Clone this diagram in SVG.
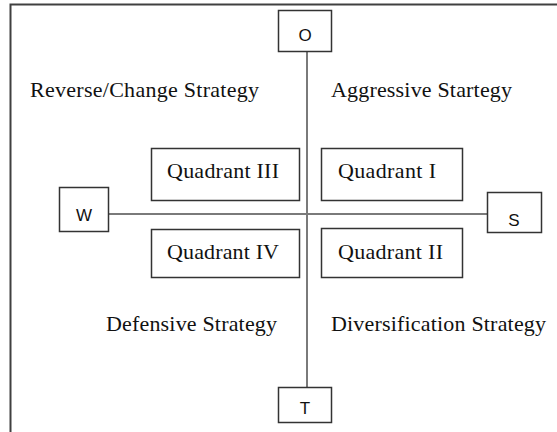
<svg xmlns="http://www.w3.org/2000/svg" width="557" height="432" viewBox="0 0 557 432">
<style>
.frame{fill:none;stroke:#404040;stroke-width:2}
.box{fill:#fff;stroke:#333;stroke-width:1.5}
.axis{stroke:#7a7a7a;stroke-width:2;fill:none}
.ser{font-family:"Liberation Serif","Times New Roman",serif;font-size:22px;fill:#111}
.sans{font-family:"Liberation Sans",Arial,sans-serif;font-size:17px;fill:#111;text-anchor:middle}
</style>
<rect width="557" height="432" fill="#fff"/>
<rect class="frame" x="10.5" y="4.5" width="600" height="500"/>
<g id="connectors">
<line class="axis" x1="307" y1="51" x2="307" y2="387"/>
<line class="axis" x1="108" y1="214" x2="487" y2="214"/>
</g>
<g id="node-O"><rect class="box" x="278.5" y="10.5" width="53" height="41"/><text class="sans" x="305" y="41">O</text></g>
<g id="node-T"><rect class="box" x="278.5" y="387.5" width="53" height="35"/><text class="sans" x="305" y="414">T</text></g>
<g id="node-W"><rect class="box" x="59.5" y="187.5" width="49" height="44"/><text class="sans" x="84" y="221">W</text></g>
<g id="node-S"><rect class="box" x="487.5" y="192.5" width="54" height="40"/><text class="sans" x="514" y="226">S</text></g>
<g id="node-q3"><rect class="box" x="151.5" y="148.5" width="148" height="52"/><text class="ser" x="167" y="178" textLength="112">Quadrant III</text></g>
<g id="node-q1"><rect class="box" x="321.5" y="148.5" width="141" height="52"/><text class="ser" x="338" y="178" textLength="98">Quadrant I</text></g>
<g id="node-q4"><rect class="box" x="151.5" y="229.5" width="148" height="48"/><text class="ser" x="167" y="259" textLength="112">Quadrant IV</text></g>
<g id="node-q2"><rect class="box" x="321.5" y="228.5" width="141" height="49"/><text class="ser" x="338" y="259" textLength="105">Quadrant II</text></g>
<g id="labels">
<text class="ser" x="30" y="97" textLength="229">Reverse/Change Strategy</text>
<text class="ser" x="331" y="97" textLength="181">Aggressive  Startegy</text>
<text class="ser" x="106" y="331" textLength="171">Defensive Strategy</text>
<text class="ser" x="331" y="331" textLength="215">Diversification  Strategy</text>
</g>
</svg>
